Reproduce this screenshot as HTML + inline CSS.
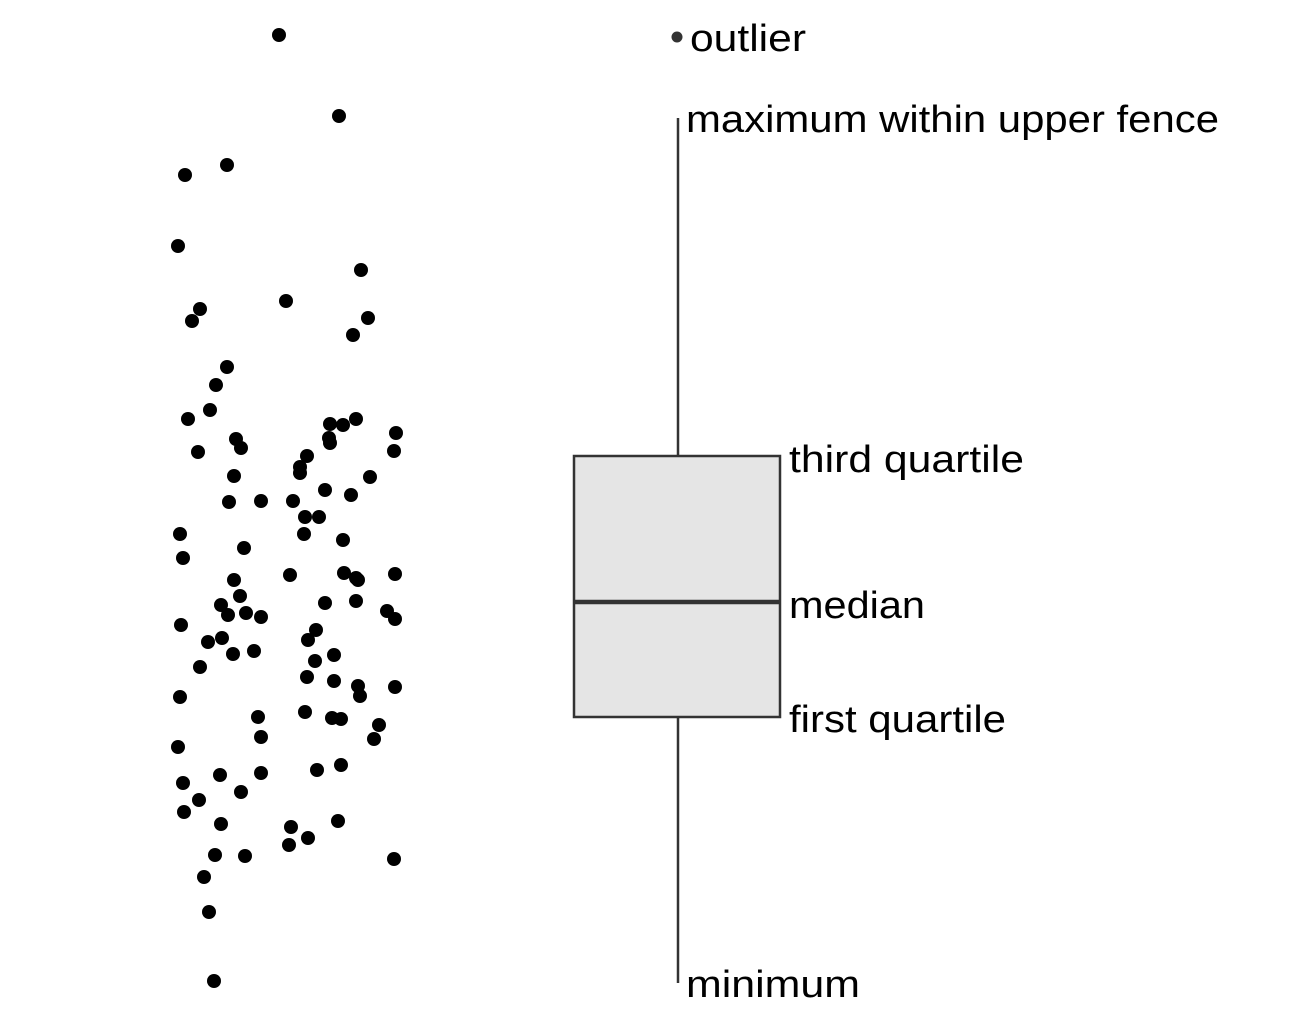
<!DOCTYPE html>
<html><head><style>html,body{margin:0;padding:0;background:#fff}</style></head>
<body>
<svg width="1314" height="1030" xmlns="http://www.w3.org/2000/svg">
<g fill="#000">
<circle cx="279" cy="35" r="7"/><circle cx="339" cy="116" r="7"/><circle cx="185" cy="175" r="7"/><circle cx="227" cy="165" r="7"/><circle cx="178" cy="246" r="7"/><circle cx="361" cy="270" r="7"/><circle cx="286" cy="301" r="7"/><circle cx="200" cy="309" r="7"/><circle cx="192" cy="321" r="7"/><circle cx="368" cy="318" r="7"/><circle cx="353" cy="335" r="7"/><circle cx="227" cy="367" r="7"/><circle cx="216" cy="385" r="7"/><circle cx="210" cy="410" r="7"/><circle cx="188" cy="419" r="7"/><circle cx="330" cy="424" r="7"/><circle cx="343" cy="425" r="7"/><circle cx="356" cy="419" r="7"/><circle cx="396" cy="433" r="7"/><circle cx="236" cy="439" r="7"/><circle cx="241" cy="448" r="7"/><circle cx="198" cy="452" r="7"/><circle cx="329" cy="438" r="7"/><circle cx="330" cy="443" r="7"/><circle cx="394" cy="451" r="7"/><circle cx="307" cy="456" r="7"/><circle cx="300" cy="467" r="7"/><circle cx="300" cy="473" r="7"/><circle cx="234" cy="476" r="7"/><circle cx="370" cy="477" r="7"/><circle cx="229" cy="502" r="7"/><circle cx="261" cy="501" r="7"/><circle cx="293" cy="501" r="7"/><circle cx="325" cy="490" r="7"/><circle cx="351" cy="495" r="7"/><circle cx="305" cy="517" r="7"/><circle cx="319" cy="517" r="7"/><circle cx="304" cy="534" r="7"/><circle cx="343" cy="540" r="7"/><circle cx="180" cy="534" r="7"/><circle cx="183" cy="558" r="7"/><circle cx="244" cy="548" r="7"/><circle cx="290" cy="575" r="7"/><circle cx="344" cy="573" r="7"/><circle cx="356" cy="578" r="7"/><circle cx="358" cy="580" r="7"/><circle cx="395" cy="574" r="7"/><circle cx="234" cy="580" r="7"/><circle cx="240" cy="596" r="7"/><circle cx="221" cy="605" r="7"/><circle cx="228" cy="615" r="7"/><circle cx="246" cy="613" r="7"/><circle cx="261" cy="617" r="7"/><circle cx="325" cy="603" r="7"/><circle cx="356" cy="601" r="7"/><circle cx="387" cy="611" r="7"/><circle cx="395" cy="619" r="7"/><circle cx="181" cy="625" r="7"/><circle cx="208" cy="642" r="7"/><circle cx="222" cy="638" r="7"/><circle cx="233" cy="654" r="7"/><circle cx="254" cy="651" r="7"/><circle cx="316" cy="630" r="7"/><circle cx="308" cy="640" r="7"/><circle cx="315" cy="661" r="7"/><circle cx="334" cy="655" r="7"/><circle cx="307" cy="677" r="7"/><circle cx="334" cy="681" r="7"/><circle cx="358" cy="686" r="7"/><circle cx="360" cy="696" r="7"/><circle cx="395" cy="687" r="7"/><circle cx="200" cy="667" r="7"/><circle cx="180" cy="697" r="7"/><circle cx="305" cy="712" r="7"/><circle cx="332" cy="718" r="7"/><circle cx="341" cy="719" r="7"/><circle cx="258" cy="717" r="7"/><circle cx="379" cy="725" r="7"/><circle cx="261" cy="737" r="7"/><circle cx="374" cy="739" r="7"/><circle cx="178" cy="747" r="7"/><circle cx="317" cy="770" r="7"/><circle cx="341" cy="765" r="7"/><circle cx="261" cy="773" r="7"/><circle cx="220" cy="775" r="7"/><circle cx="183" cy="783" r="7"/><circle cx="241" cy="792" r="7"/><circle cx="199" cy="800" r="7"/><circle cx="184" cy="812" r="7"/><circle cx="221" cy="824" r="7"/><circle cx="291" cy="827" r="7"/><circle cx="308" cy="838" r="7"/><circle cx="289" cy="845" r="7"/><circle cx="338" cy="821" r="7"/><circle cx="215" cy="855" r="7"/><circle cx="245" cy="856" r="7"/><circle cx="394" cy="859" r="7"/><circle cx="204" cy="877" r="7"/><circle cx="209" cy="912" r="7"/><circle cx="214" cy="981" r="7"/>
</g>
<circle cx="677" cy="37" r="5.5" fill="#333"/>
<line x1="678" y1="118" x2="678" y2="456" stroke="#333" stroke-width="2.5"/>
<line x1="678" y1="717" x2="678" y2="983" stroke="#333" stroke-width="2.5"/>
<rect x="574" y="456" width="206" height="261" fill="#e5e5e5" stroke="#333" stroke-width="2.5"/>
<line x1="574" y1="602" x2="780" y2="602" stroke="#333" stroke-width="4.5"/>
<g font-family="Liberation Sans, sans-serif" font-size="38" fill="#000">
<text x="690" y="51" textLength="116" lengthAdjust="spacingAndGlyphs">outlier</text>
<text x="686" y="132" textLength="533" lengthAdjust="spacingAndGlyphs">maximum within upper fence</text>
<text x="789" y="472" textLength="235" lengthAdjust="spacingAndGlyphs">third quartile</text>
<text x="789" y="618" textLength="136" lengthAdjust="spacingAndGlyphs">median</text>
<text x="789" y="732" textLength="217" lengthAdjust="spacingAndGlyphs">first quartile</text>
<text x="686" y="997" textLength="174" lengthAdjust="spacingAndGlyphs">minimum</text>
</g>
</svg>
</body></html>
